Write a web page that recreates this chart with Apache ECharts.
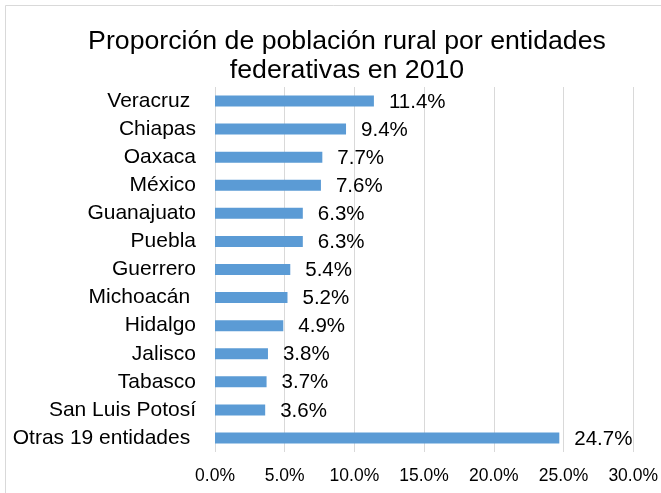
<!DOCTYPE html>
<html>
<head>
<meta charset="utf-8">
<script src="https://cdn.jsdelivr.net/npm/echarts@6/dist/echarts.min.js"></script>
<style>html,body{margin:0;padding:0;background:#fff;}#c{width:661px;height:493px;}</style>
</head>
<body>
<div id="c"></div>
<script>
var categories = ["Veracruz ", "Chiapas", "Oaxaca", "México", "Guanajuato", "Puebla", "Guerrero", "Michoacán ", "Hidalgo", "Jalisco", "Tabasco", "San Luis Potosí", "Otras 19 entidades "];
var values = [11.4, 9.4, 7.7, 7.6, 6.3, 6.3, 5.4, 5.2, 4.9, 3.8, 3.7, 3.6, 24.7];
var titleLines = ["Proporción de población rural por entidades", "federativas en 2010"];
var axisMin = 0, axisMax = 30, axisStep = 5;

var font = "'Liberation Sans', Arial, sans-serif";
var chart = echarts.init(document.getElementById('c'), null, {renderer: 'canvas'});
chart.setOption({
  animation: false,
  backgroundColor: '#fff',
  title: {
    text: titleLines.join('\n'),
    left: 347, top: 27, textAlign: 'center', padding: 0,
    textStyle: {fontFamily: font, fontSize: 26.7, lineHeight: 29, fontWeight: 'normal', color: '#000'}
  },
  graphic: [{
    type: 'rect', shape: {x: 5.5, y: 5.5, width: 800, height: 700},
    style: {fill: 'none', stroke: '#d9d9d9', lineWidth: 1}, silent: true, z: -1
  }],
  grid: {left: 215, right: 27, top: 87, bottom: 41, containLabel: false},
  xAxis: {
    type: 'value', min: axisMin, max: axisMax, interval: axisStep,
    axisLine: {show: false}, axisTick: {show: false},
    splitLine: {show: true, lineStyle: {color: '#d9d9d9', width: 1}},
    axisLabel: {fontFamily: font, fontSize: 17.5, color: '#000', margin: 15,
      formatter: function (v) { return v.toFixed(1) + '%'; }}
  },
  yAxis: {
    type: 'category', data: categories, inverse: true,
    axisLine: {show: false}, axisTick: {show: false},
    axisLabel: {fontFamily: font, fontSize: 21, color: '#000', margin: 19}
  },
  series: [{
    type: 'bar', data: values, barWidth: 11,
    itemStyle: {color: '#5b9bd5'},
    label: {show: true, position: 'right', distance: 15, offset: [0, 1], fontFamily: font, fontSize: 20.5, color: '#000',
      formatter: function (p) { return p.value.toFixed(1) + '%'; }}
  }]
});
</script>
</body>
</html>
